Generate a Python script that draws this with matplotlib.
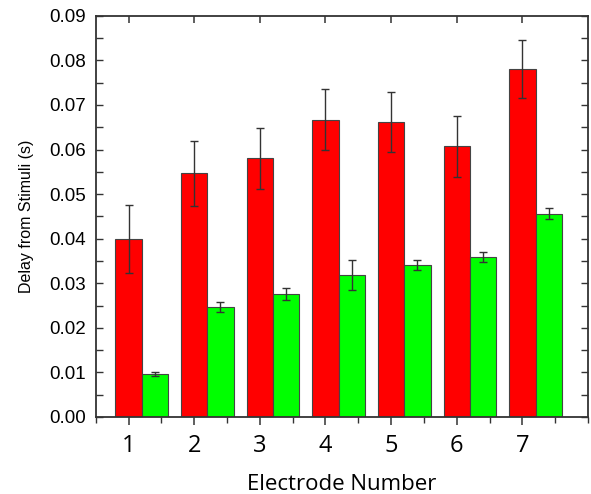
import numpy as np
import matplotlib
matplotlib.use("Agg")
import matplotlib.pyplot as plt
from matplotlib.ticker import MultipleLocator

# data
electrodes = [1, 2, 3, 4, 5, 6, 7]
red_vals = [0.0400, 0.0547, 0.0580, 0.0667, 0.0661, 0.0607, 0.0781]
red_err = [0.0076, 0.0073, 0.0068, 0.0069, 0.0067, 0.0068, 0.0065]
green_vals = [0.0096, 0.0246, 0.0276, 0.0318, 0.0341, 0.0359, 0.0456]
green_err = [0.0004, 0.0011, 0.0013, 0.0033, 0.0012, 0.0012, 0.0012]
y_ticks = [0.00, 0.01, 0.02, 0.03, 0.04, 0.05, 0.06, 0.07, 0.08, 0.09]

x = np.array(electrodes)
w = 0.4

fig = plt.figure(figsize=(5.91, 4.94), dpi=100)
ax = fig.add_axes([0.162, 0.156, 0.833, 0.812])

ekw = dict(ecolor='#333333', elinewidth=1.0, capsize=3.2, capthick=1.0)
ax.bar(x, red_vals, w, yerr=red_err, color='#ff0000', edgecolor='#444444',
       linewidth=0.8, error_kw=ekw, zorder=2)
ax.bar(x + w, green_vals, w, yerr=green_err, color='#00ff00', edgecolor='#444444',
       linewidth=0.8, error_kw=ekw, zorder=2)

ax.set_xlim(0.5, 8.0)
ax.set_ylim(0, 0.09)
ax.set_xticks(electrodes)
ax.set_xticklabels([str(e) for e in electrodes], fontsize=17, family='Open Sans')
ax.xaxis.set_minor_locator(MultipleLocator(0.5))
ax.set_yticks(y_ticks)
ax.set_yticklabels(['%.2f' % v for v in y_ticks], fontsize=13.5, family='Liberation Sans')
ax.yaxis.set_minor_locator(MultipleLocator(0.005))

ax.tick_params(axis='x', which='major', direction='out', length=6, width=1.1,
               color='#333333', pad=6)
ax.tick_params(axis='x', which='minor', direction='out', length=4, width=1.0,
               color='#333333')
ax.tick_params(axis='y', which='both', direction='in', length=5, width=1.0,
               color='#333333', right=True, pad=7)
ax.tick_params(axis='y', which='minor', length=5)

for sp in ax.spines.values():
    sp.set_linewidth(1.3)
    sp.set_color('#333333')

# top ticks pointing in at the electrode positions
secx = ax.secondary_xaxis('top')
secx.set_xticks(electrodes)
secx.set_xticklabels([])
secx.tick_params(direction='in', length=5, width=1.1, color='#333333')
secx.spines['top'].set_visible(False)

ax.set_xlabel('Electrode Number', fontsize=16, family='Open Sans', labelpad=12)
ax.set_ylabel('Delay from Stimuli (s)', fontsize=11.5, family='Liberation Sans', labelpad=11)

fig.savefig('out.png', dpi=100)
